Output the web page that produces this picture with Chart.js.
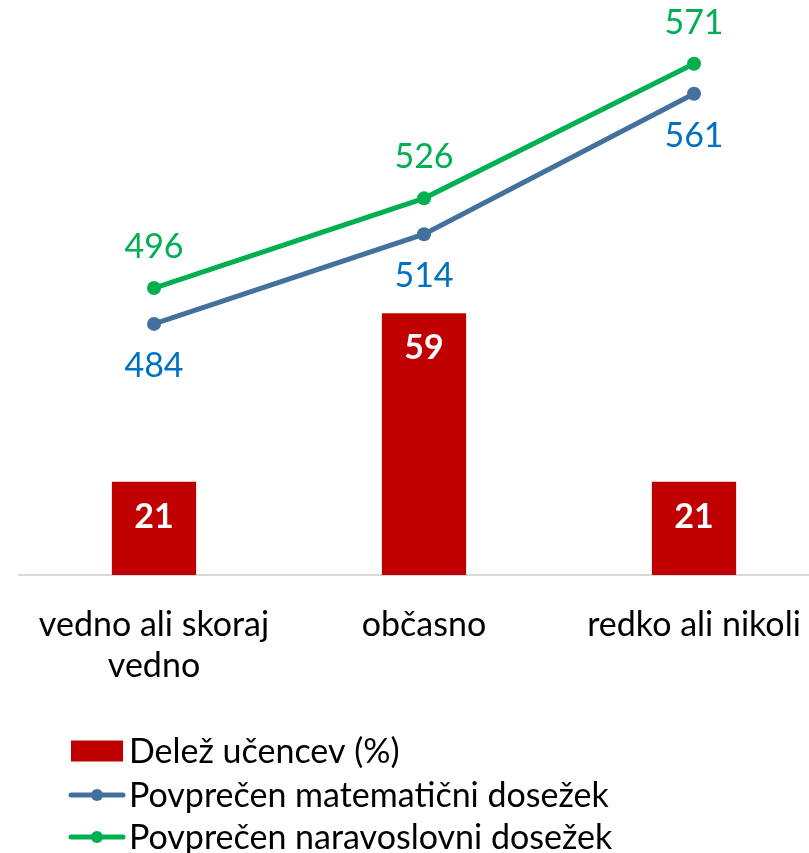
<!DOCTYPE html>
<html><head><meta charset="utf-8">
<script src="https://cdn.jsdelivr.net/npm/chart.js@4.4.1/dist/chart.umd.min.js"></script>
<style>html,body{margin:0;padding:0;background:#fff;overflow:hidden;} #wrap{position:relative;width:840px;height:853px;}</style>
</head><body><div id="wrap"><canvas id="c"></canvas></div>
<script>
const categories = [['vedno ali skoraj', 'vedno'], 'občasno', 'redko ali nikoli'];
const shareLabel = 'Delež učencev (%)';
const shareValues = [21, 59, 21];
const mathLabel = 'Povprečen matematični dosežek';
const mathValues = [484, 514, 561];
const sciLabel = 'Povprečen naravoslovni dosežek';
const sciValues = [496, 526, 571];

const FONT = 'Lato, "Open Sans", sans-serif';
const FS = 34;
const RED = '#C00000', MATH = '#41719C', SCI = '#00B050', MATHTXT = '#0070C0';

const labelPlugin = {
  id: 'valueLabels',
  afterDatasetsDraw(chart) {
    const ctx = chart.ctx;
    ctx.save();
    ctx.textAlign = 'center';
    ctx.textBaseline = 'middle';
    chart.data.datasets.forEach((ds, i) => {
      const meta = chart.getDatasetMeta(i);
      meta.data.forEach((el, j) => {
        const v = ds.data[j];
        if (ds.type === 'bar') {
          ctx.font = 'bold ' + FS + 'px ' + FONT;
          ctx.fillStyle = '#FFFFFF';
          ctx.fillText(String(v), el.x, el.y + 35);
        } else if (ds.label === sciLabel) {
          ctx.font = FS + 'px ' + FONT;
          ctx.fillStyle = SCI;
          ctx.fillText(String(v), el.x, el.y - 41);
        } else {
          ctx.font = FS + 'px ' + FONT;
          ctx.fillStyle = MATHTXT;
          ctx.fillText(String(v), el.x, el.y + 42);
        }
      });
    });
    ctx.restore();
  }
};

const legendPlugin = {
  id: 'customLegend',
  afterDraw(chart) {
    const ctx = chart.ctx;
    const rows = [751, 795, 837];
    ctx.save();
    ctx.font = FS + 'px ' + FONT;
    ctx.textBaseline = 'middle';
    ctx.textAlign = 'left';
    chart.data.datasets.forEach((ds, i) => {
      const y = rows[i];
      if (ds.type === 'bar') {
        ctx.fillStyle = ds.backgroundColor;
        ctx.fillRect(71, y - 10.5, 52, 21);
      } else {
        ctx.strokeStyle = ds.borderColor;
        ctx.lineWidth = 5;
        ctx.lineCap = 'round';
        ctx.beginPath(); ctx.moveTo(71, y); ctx.lineTo(123, y); ctx.stroke();
        ctx.fillStyle = ds.borderColor;
        ctx.beginPath(); ctx.arc(97, y, 6, 0, Math.PI * 2); ctx.fill();
      }
      ctx.fillStyle = '#000000';
      ctx.fillText(ds.label, 129, y + 1);
    });
    ctx.restore();
  }
};

new Chart(document.getElementById('c'), {
  data: {
    labels: categories,
    datasets: [
      { type: 'bar', label: shareLabel, data: shareValues, yAxisID: 'y', backgroundColor: RED,
        categoryPercentage: 1, barPercentage: 0.312, order: 3 },
      { type: 'line', label: mathLabel, data: mathValues, yAxisID: 'y1', borderColor: MATH, backgroundColor: MATH,
        borderWidth: 5, pointRadius: 7, pointBackgroundColor: MATH, pointBorderWidth: 0, order: 2 },
      { type: 'line', label: sciLabel, data: sciValues, yAxisID: 'y1', borderColor: SCI, backgroundColor: SCI,
        borderWidth: 5, pointRadius: 7, pointBackgroundColor: SCI, pointBorderWidth: 0, order: 1 }
    ]
  },
  options: {
    responsive: true,
    maintainAspectRatio: false,
    animation: false,
    layout: { padding: { top: 5, left: 19, right: 11, bottom: 148 } },
    plugins: { legend: { display: false }, tooltip: { enabled: false } },
    scales: {
      x: {
        grid: { display: false, drawTicks: false },
        border: { display: true, color: '#D9D9D9', width: 2 },
        ticks: { color: '#000000', padding: 30, font: { family: FONT, size: FS, lineHeight: '41px' }, maxRotation: 0, autoSkip: false },
        afterFit(scale) { scale.height = 130; }
      },
      y: { display: false, min: 0, max: 128 },
      y1: { display: false, min: 400, max: 590 }
    }
  },
  plugins: [labelPlugin, legendPlugin]
});
</script>
</body></html>
